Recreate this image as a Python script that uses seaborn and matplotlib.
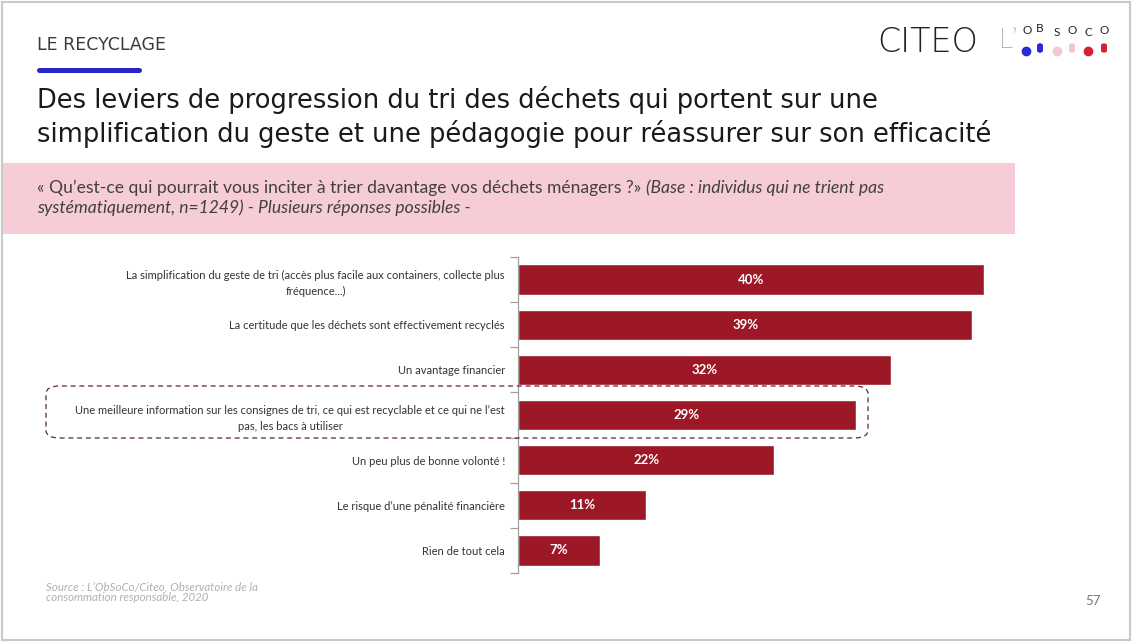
import matplotlib
matplotlib.use("Agg")
import matplotlib.pyplot as plt
from matplotlib.patches import FancyBboxPatch, Rectangle
from matplotlib.lines import Line2D
import seaborn as sns
import pandas as pd

# chart data
categories = [
    "La simplification du geste de tri (accès plus facile aux containers, collecte plus\nfréquence...)",
    "La certitude que les déchets sont effectivement recyclés",
    "Un avantage financier",
    "Une meilleure information sur les consignes de tri, ce qui est recyclable et ce qui ne l’est\npas, les bacs à utiliser",
    "Un peu plus de bonne volonté !",
    "Le risque d’une pénalité financière",
    "Rien de tout cela",
]
values = [40, 39, 32, 29, 22, 11, 7]
value_labels = ["40%", "39%", "32%", "29%", "22%", "11%", "7%"]

title = ("Des leviers de progression du tri des déchets qui portent sur une\n"
         "simplification du geste et une pédagogie pour réassurer sur son efficacité")
question = "« Qu’est-ce qui pourrait vous inciter à trier davantage vos déchets ménagers ?» "
base_1 = "(Base : individus qui ne trient pas"
base_2 = "systématiquement, n=1249) - Plusieurs réponses possibles -"
source = "Source : L’ObSoCo/Citeo, Observatoire de la\nconsommation responsable, 2020"

BAR = "#9c1826"
W, H = 1140, 643


def fx(x):
    return x / W


def fy(y):
    return 1 - y / H


sns.set_theme(style="white")
plt.rcParams["font.family"] = ["Lato", "DejaVu Sans"]

fig = plt.figure(figsize=(W / 100, H / 100), dpi=100)
fig.patch.set_facecolor("white")

# slide frame
fig.add_artist(Rectangle((fx(2), fy(640)), fx(1128), 638 / H, transform=fig.transFigure,
                         fill=False, edgecolor="#c9c9c9", lw=1.5))

# header
fig.text(fx(37), fy(45), "LE RECYCLAGE", fontsize=12.5, color="#3a3a3a", va="center",
         ha="left", family="DejaVu Sans")
fig.add_artist(Line2D([fx(39), fx(139)], [fy(70), fy(70)], color="#2626c9", lw=3.6,
                      solid_capstyle="round", transform=fig.transFigure))
fig.text(fx(37), fy(117), title, fontsize=18.5, color="#1a1a1a", va="center", ha="left",
         linespacing=1.3, family="DejaVu Sans")

# logos
fig.text(fx(877), fy(43), "CITEO", fontsize=24, color="#222222", va="center", ha="left",
         family="DejaVu Sans", fontweight="light")
fig.text(fx(999), fy(41), "L’", fontsize=20, color="#222222", va="center", ha="left",
         fontweight="light")
letters = [("O", 1027, 31), ("B", 1040, 28), ("S", 1057, 32), ("O", 1072, 30), ("C", 1088, 33), ("O", 1104, 31)]
for ch, x, y in letters:
    fig.text(fx(x), fy(y), ch, fontsize=8.5, color="#222222", va="center", ha="center")
dots = [(1026, "#2b2bd6", False), (1040, "#2b2bd6", True), (1057, "#f3c7d2", False),
        (1072, "#f3c7d2", True), (1088, "#d32333", False), (1104, "#d32333", True)]
for x, c, pill in dots:
    if pill:
        fig.add_artist(FancyBboxPatch((fx(x - 3), fy(53)), fx(6), 10 / H,
                                      boxstyle="round,pad=0,rounding_size=0.004",
                                      transform=fig.transFigure, color=c, lw=0))
    else:
        fig.add_artist(Line2D([fx(x)], [fy(51)], marker="o", ms=6, color=c,
                              transform=fig.transFigure))

# question band
fig.add_artist(Rectangle((fx(3), fy(234)), fx(1012), 71 / H, transform=fig.transFigure,
                         color="#f6ccd6", lw=0))
q = fig.text(fx(37), fy(188), question, fontsize=12.6, color="#404040", va="center", ha="left")
fig.add_artist(plt.Annotation(base_1, xy=(1, 0.5), xycoords=q, va="center", ha="left",
                              fontsize=12.6, color="#404040", style="italic"))
fig.text(fx(37), fy(208), base_2, fontsize=12.6, color="#404040", va="center", ha="left",
         style="italic")

# bar chart
df = pd.DataFrame({"cat": categories, "val": values})
ax = fig.add_axes([fx(518), fy(573), 44 * 11.65 / W, 316 / H])
sns.barplot(data=df, x="val", y="cat", orient="h", color=BAR, width=0.67,
            saturation=1, ax=ax)
ax.set_xlim(0, 44)
ax.set_ylim(len(categories) - 0.5, -0.5)
ax.set_xlabel("")
ax.set_ylabel("")
ax.set_xticks([])
for s in ["top", "right", "bottom"]:
    ax.spines[s].set_visible(False)
ax.spines["left"].set_color("#a0a0a0")
ax.spines["left"].set_linewidth(0.9)
ax.set_yticks(range(len(categories)))
ax.set_yticklabels(categories, fontsize=8, color="#333333")
for t in ax.get_yticklabels():
    t.set_multialignment("center")
    t.set_linespacing(1.6)
ax.tick_params(axis="y", which="major", length=0, pad=9.5)
ax.set_yticks([i - 0.5 for i in range(len(categories) + 1)], minor=True)
ax.tick_params(axis="y", which="minor", length=6, color="#a0a0a0", width=0.9, left=True)

for i, (v, lab) in enumerate(zip(values, value_labels)):
    ax.text(v / 2, i, lab, color="white", fontsize=9.5, fontweight="bold",
            ha="center", va="center")

# highlight box
fig.add_artist(FancyBboxPatch((fx(46), fy(438)), fx(822), 52 / H,
                              boxstyle="round,pad=0,rounding_size=0.012",
                              transform=fig.transFigure, fill=False,
                              edgecolor="#5b2a38", lw=0.9, ls=(0, (4, 3))))

# footer
fig.text(fx(46), fy(592), source, fontsize=8.3, color="#b0b0b0", style="italic",
         va="center", ha="left", linespacing=1.0)
fig.text(fx(1093), fy(601), "57", fontsize=9.5, color="#777777", va="center", ha="center")

fig.savefig("out.png", dpi=100)
